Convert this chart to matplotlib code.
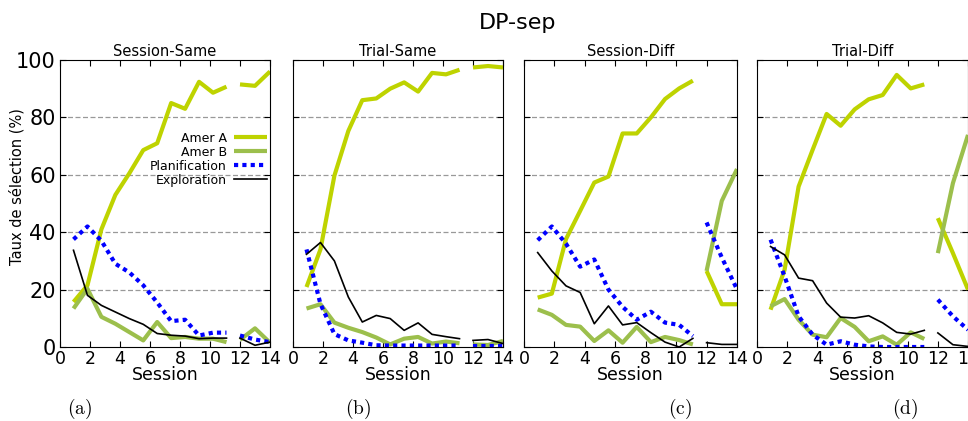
import numpy as np
import matplotlib.pyplot as plt

plt.rcParams['mathtext.fontset'] = 'cm'

# session positions (first block, then the separate block 12-14)
x_first = [0.9, 1.83, 2.76, 3.69, 4.62, 5.55, 6.48, 7.41, 8.34, 9.27, 10.2, 11.1]
x_second = [12, 13, 14]

titles = ['Session-Same', 'Trial-Same', 'Session-Diff', 'Trial-Diff']
sub_labels = ['(a)', '(b)', '(c)', '(d)']

# Session-Same
amer_a_ss = [15.7, 21.5, 41, 53, 60.5, 68.6, 71, 85, 83, 92.4, 88.6, 90.7]
amer_a_ss2 = [91.5, 91, 96]
amer_b_ss = [13.4, 20.3, 10.5, 8.1, 5.2, 2.3, 8.7, 3.1, 3.5, 2.9, 2.9, 1.7]
amer_b_ss2 = [2.5, 6.5, 1.5]
plan_ss = [37.5, 42, 37, 29, 26, 21.5, 15.5, 9, 9.5, 4, 5, 5]
plan_ss2 = [4, 2.6, 1.7]
expl_ss = [33.7, 18, 14.5, 12.2, 9.9, 7.9, 4.7, 4.1, 3.8, 2.9, 3.1, 3.1]
expl_ss2 = [3.1, 0.6, 1.7]

# Trial-Same
amer_a_ts = [20.9, 34, 59.7, 75.3, 86, 86.6, 90, 92.2, 89, 95.5, 95, 96.6]
amer_a_ts2 = [97.4, 97.9, 97.4]
amer_b_ts = [13.4, 14.9, 8.5, 6.7, 5.2, 3.3, 0.9, 2.9, 3.5, 1.2, 1.9, 1.3]
amer_b_ts2 = [0.9, 0.7, 2.1]
plan_ts = [34, 15, 4.5, 2.3, 1.5, 0.6, 0.5, 0.5, 0.5, 0.5, 0.5, 0.5]
plan_ts2 = [0.5, 0.5, 0.5]
expl_ts = [32.3, 36.4, 30, 17.4, 8.7, 11, 9.9, 5.8, 8.4, 4.4, 3.6, 2.9]
expl_ts2 = [2.3, 2.6, 1.2]

# Session-Diff
amer_a_sd = [17.2, 18.6, 37.6, 47.4, 57.3, 59.4, 74.4, 74.4, 80, 86.4, 90.1, 92.8]
amer_a_sd2 = [26.5, 14.9, 14.9]
amer_b_sd = [13.1, 11.2, 7.7, 7.1, 2.1, 5.8, 1.5, 7, 1.7, 3.5, 2.4, 0.9]
amer_b_sd2 = [26.5, 50.9, 62]
plan_sd = [37.2, 42, 36, 28, 30.5, 20, 14, 9.5, 12.3, 8.5, 7.7, 3.8]
plan_sd2 = [43.4, 31.2, 20.1]
expl_sd = [32.9, 26.5, 21.3, 19, 8.1, 14.3, 7.7, 8.5, 5, 1.7, 0, 3]
expl_sd2 = [1.5, 0.9, 0.9]

# Trial-Diff
amer_a_td = [13, 26.9, 55.9, 68.7, 81.2, 77.1, 82.8, 86.3, 87.8, 94.8, 90.1, 91.5]
amer_a_td2 = [44.9, 32.7, 20]
amer_b_td = [14.2, 16.7, 9.5, 4.3, 3.4, 10.1, 7, 2, 3.7, 0.8, 5.1, 2.8]
amer_b_td2 = [32.7, 57.1, 73.9]
plan_td = [37.4, 24.6, 10.7, 4.3, 0.8, 2, 0.8, 0.2, 0, 0, 0, 0]
plan_td2 = [16.5, 10.7, 6]
expl_td = [35, 32.1, 24, 23.1, 15.3, 10.4, 10.1, 10.9, 8.4, 5.1, 4.5, 5.8]
expl_td2 = [4.9, 0.8, 0.2]

panels = [
    (amer_a_ss, amer_a_ss2, amer_b_ss, amer_b_ss2, plan_ss, plan_ss2, expl_ss, expl_ss2),
    (amer_a_ts, amer_a_ts2, amer_b_ts, amer_b_ts2, plan_ts, plan_ts2, expl_ts, expl_ts2),
    (amer_a_sd, amer_a_sd2, amer_b_sd, amer_b_sd2, plan_sd, plan_sd2, expl_sd, expl_sd2),
    (amer_a_td, amer_a_td2, amer_b_td, amer_b_td2, plan_td, plan_td2, expl_td, expl_td2),
]

col_a = '#bed300'
col_b = '#9cbf4c'
col_plan = '#0000ff'
col_expl = 'black'

W, H = 968, 421
fig = plt.figure(figsize=(W / 100, H / 100), dpi=100)

lefts = [60, 293, 524, 757]
widths = [210, 210, 213, 211]
top, bottom = 60, 347

for i, data in enumerate(panels):
    ax = fig.add_axes([lefts[i] / W, (H - bottom) / H, widths[i] / W, (bottom - top) / H])
    a1, a2, b1, b2, p1, p2, e1, e2 = data
    for xs, (a, b, p, e) in [(x_first, (a1, b1, p1, e1)), (x_second, (a2, b2, p2, e2))]:
        ax.plot(xs, a, color=col_a, lw=3, solid_capstyle='butt',
                label='Amer A' if xs is x_first else None)
        ax.plot(xs, b, color=col_b, lw=3, solid_capstyle='butt',
                label='Amer B' if xs is x_first else None)
        ax.plot(xs, p, color=col_plan, lw=3, linestyle=(0, (1, 1)), dash_capstyle='butt',
                label='Planification' if xs is x_first else None)
        ax.plot(xs, e, color=col_expl, lw=1.2,
                label='Exploration' if xs is x_first else None)

    ax.set_xlim(0, 14)
    ax.set_ylim(0, 100)
    ax.set_xticks(np.arange(0, 15, 2))
    ax.set_yticks(np.arange(0, 101, 20))
    for yv in [20, 40, 60, 80]:
        ax.axhline(yv, color='#999999', lw=0.9, ls=(0, (4, 2)), zorder=0)
    ax.tick_params(direction='in', top=True, right=True, length=4, width=0.8)
    ax.tick_params(axis='x', labelsize=12.5, pad=2)
    ax.tick_params(axis='y', labelsize=15, pad=3)
    for sp in ax.spines.values():
        sp.set_linewidth(0.8)
    ax.set_title(titles[i], fontsize=10.5, pad=3)
    ax.set_xlabel('Session', fontsize=12.5, labelpad=-1)
    if i == 0:
        ax.set_ylabel('Taux de sélection (%)', fontsize=10.5)
        ax.yaxis.set_label_coords(-0.17, 0.56)
        ax.legend(loc='upper right', bbox_to_anchor=(0.985, 0.75), frameon=False,
                  fontsize=9, markerfirst=False, handlelength=2.6, handletextpad=0.6,
                  labelspacing=0.08, borderaxespad=0, borderpad=0)
    else:
        ax.set_yticklabels([])

sub_x = [80, 358, 680, 905]
for lab, xp in zip(sub_labels, sub_x):
    fig.text(xp / W, 1 - 409 / H, r'$\mathrm{' + lab + '}$', fontsize=14,
             ha='center', va='center')

fig.text(518 / W, 1 - 23 / H, 'DP-sep', fontsize=16, ha='center', va='center')

fig.savefig('out.png', dpi=100)
